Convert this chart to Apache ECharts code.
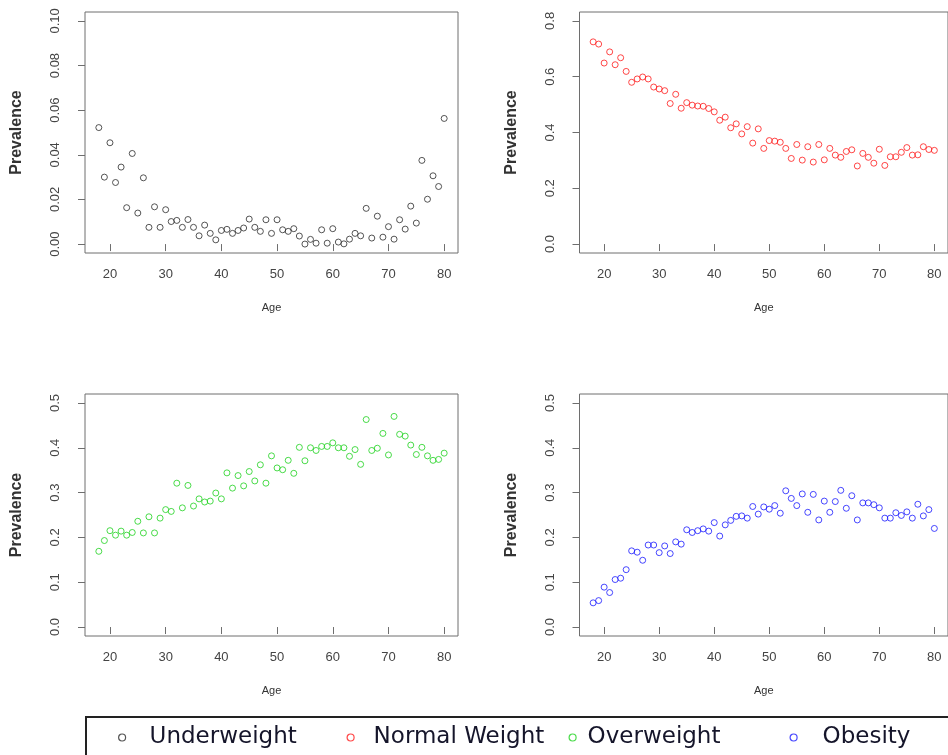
<!DOCTYPE html>
<html>
<head>
<meta charset="utf-8">
<style>
  html, body { margin: 0; padding: 0; background: #fff; }
  #chart { width: 948px; height: 755px; }
</style>
<script src="https://cdn.jsdelivr.net/npm/echarts@6/dist/echarts.min.js"></script>
</head>
<body>
<div id="chart"></div>
<script>
// Age in years (x values shared by all four panels)
const ages = [18,19,20,21,22,23,24,25,26,27,28,29,30,31,32,33,34,35,36,37,38,39,40,41,42,43,44,45,46,47,48,49,50,51,52,53,54,55,56,57,58,59,60,61,62,63,64,65,66,67,68,69,70,71,72,73,74,75,76,77,78,79,80];

// Prevalence of each BMI class by age
const underweight = [0.0522,0.0300,0.0454,0.0276,0.0345,0.0163,0.0406,0.0139,0.0297,0.0075,
  0.0167,0.0075,0.0154,0.0101,0.0106,0.0075,0.0110,0.0075,0.0037,0.0085,
  0.0048,0.0019,0.0061,0.0066,0.0048,0.0061,0.0072,0.0112,0.0075,0.0057,
  0.0109,0.0048,0.0109,0.0064,0.0057,0.0069,0.0036,0.0000,0.0021,0.0004,
  0.0064,0.0004,0.0069,0.0009,0.0001,0.0022,0.0048,0.0037,0.0160,0.0027,
  0.0125,0.0031,0.0078,0.0022,0.0109,0.0067,0.0170,0.0094,0.0375,0.0201,
  0.0306,0.0258,0.0563];
const normalWeight = [0.725,0.717,0.649,0.689,0.643,0.668,0.619,0.580,0.592,0.599,
  0.592,0.563,0.556,0.550,0.504,0.537,0.487,0.507,0.498,0.495,
  0.494,0.486,0.474,0.444,0.455,0.417,0.431,0.395,0.421,0.362,
  0.413,0.343,0.371,0.369,0.365,0.343,0.307,0.357,0.301,0.349,
  0.294,0.357,0.302,0.343,0.319,0.311,0.332,0.338,0.280,0.325,
  0.311,0.290,0.340,0.282,0.313,0.313,0.329,0.346,0.319,0.320,
  0.349,0.339,0.336];
const overweight = [0.169,0.193,0.215,0.205,0.214,0.205,0.211,0.236,0.210,0.246,
  0.210,0.243,0.262,0.258,0.321,0.266,0.316,0.270,0.286,0.279,
  0.281,0.299,0.286,0.344,0.310,0.338,0.315,0.347,0.326,0.362,
  0.321,0.382,0.355,0.351,0.372,0.343,0.401,0.371,0.400,0.394,
  0.403,0.403,0.411,0.400,0.400,0.381,0.396,0.363,0.463,0.394,
  0.399,0.432,0.384,0.470,0.430,0.426,0.406,0.385,0.401,0.382,
  0.372,0.374,0.388];
const obesity = [0.054,0.059,0.089,0.077,0.106,0.109,0.128,0.170,0.167,0.149,
  0.183,0.183,0.166,0.181,0.164,0.190,0.185,0.217,0.211,0.215,
  0.219,0.214,0.233,0.203,0.228,0.238,0.247,0.248,0.243,0.269,
  0.252,0.268,0.263,0.271,0.254,0.304,0.287,0.271,0.297,0.256,
  0.296,0.239,0.281,0.256,0.280,0.305,0.265,0.293,0.239,0.277,
  0.277,0.273,0.266,0.243,0.243,0.255,0.249,0.257,0.243,0.274,
  0.248,0.262,0.220];

// Tick positions
const ageTicks = [20,30,40,50,60,70,80];
const underTicks = [0, 0.02, 0.04, 0.06, 0.08, 0.10];
const normalTicks = [0, 0.2, 0.4, 0.6, 0.8];
const shareTicks = [0, 0.1, 0.2, 0.3, 0.4, 0.5];

const seriesNames = ['Underweight', 'Normal Weight', 'Overweight', 'Obesity'];
const seriesColors = ['#2a2a2a', '#ff1a1a', '#1ed21e', '#1a1aff'];
const seriesValues = [underweight, normalWeight, overweight, obesity];

const panels = [
  { grid: { left: 85,    top: 12,  width: 373, height: 241 }, ymin: -0.004, ymax: 0.104, ticks: underTicks,  digits: 2 },
  { grid: { left: 579.5, top: 12,  width: 373, height: 241 }, ymin: -0.032, ymax: 0.832, ticks: normalTicks, digits: 1 },
  { grid: { left: 85,    top: 394, width: 373, height: 242 }, ymin: -0.02,  ymax: 0.52,  ticks: shareTicks,  digits: 1 },
  { grid: { left: 579.5, top: 394, width: 373, height: 242 }, ymin: -0.02,  ymax: 0.52,  ticks: shareTicks,  digits: 1 }
];

const FONT = 'Liberation Sans, Arial, sans-serif';
const boxColor = '#6e6e6e';
const textColor = '#444';

const grid = panels.map(p => Object.assign({
  show: true, borderColor: boxColor, borderWidth: 1, backgroundColor: 'transparent'
}, p.grid));

const xAxis = panels.map((p, i) => ({
  type: 'value', gridIndex: i, min: 15.52, max: 82.48,
  name: 'Age', nameLocation: 'middle', nameGap: 49,
  nameTextStyle: { fontFamily: FONT, fontSize: 11, color: '#333' },
  axisLine: { show: false },
  splitLine: { show: false },
  axisTick: { show: true, inside: false, length: 7, customValues: ageTicks,
              lineStyle: { color: boxColor, width: 1 } },
  axisLabel: { show: true, margin: 15, customValues: ageTicks,
               fontFamily: FONT, fontSize: 13, color: textColor }
}));

const yAxis = panels.map((p, i) => ({
  type: 'value', gridIndex: i, min: p.ymin, max: p.ymax,
  name: 'Prevalence', nameLocation: 'middle', nameGap: 60, nameRotate: 90,
  nameTextStyle: { fontFamily: FONT, fontSize: 16, fontWeight: 'bold', color: '#333' },
  axisLine: { show: false },
  splitLine: { show: false },
  axisTick: { show: true, inside: false, length: 7, customValues: p.ticks,
              lineStyle: { color: boxColor, width: 1 } },
  axisLabel: { show: true, margin: 23, rotate: 90, customValues: p.ticks,
               fontFamily: FONT, fontSize: 13, color: textColor,
               formatter: v => Number(v).toFixed(p.digits) }
}));

const series = seriesNames.map((name, i) => ({
  name: name, type: 'scatter', xAxisIndex: i, yAxisIndex: i,
  symbol: 'circle', symbolSize: 6,
  itemStyle: { color: 'rgba(0,0,0,0)', borderColor: seriesColors[i], borderWidth: 1 },
  emphasis: { disabled: true },
  data: ages.map((a, k) => [a, seriesValues[i][k]])
}));

// One legend block per class along the bottom strip: icon centre and text start
const legendSlots = [
  { icon: 121.5, text: 149 },
  { icon: 350,   text: 373 },
  { icon: 572,   text: 587 },
  { icon: 793,   text: 822 }
];
const ICON = 7;
const legend = seriesNames.map((name, i) => {
  const s = legendSlots[i];
  return {
    data: [name], left: s.icon - ICON / 2, top: 726, padding: 0,
    icon: 'circle', itemWidth: ICON, itemHeight: ICON,
    selectedMode: false,
    itemStyle: { color: 'rgba(0,0,0,0)', borderColor: seriesColors[i], borderWidth: 1.2 },
    textStyle: { fontFamily: 'DejaVu Sans, sans-serif', fontSize: 23, color: '#15152a',
                 padding: [0, 0, 0, Math.max(0, s.text - (s.icon + ICON / 2 + 5))] }
  };
});

const chart = echarts.init(document.getElementById('chart'), null, { renderer: 'canvas' });
chart.setOption({
  animation: false,
  backgroundColor: '#fff',
  grid, xAxis, yAxis, series, legend,
  graphic: [{
    type: 'rect', silent: true,
    shape: { x: 86, y: 717, width: 900, height: 80 },
    style: { fill: 'none', stroke: '#222', lineWidth: 2 }
  }]
});
</script>
</body>
</html>
